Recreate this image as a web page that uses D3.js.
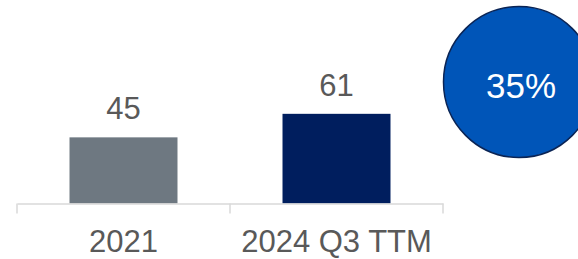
<!DOCTYPE html>
<html>
<head>
<meta charset="utf-8">
<script src="https://cdn.jsdelivr.net/npm/d3@7"></script>
<style>
  body { margin: 0; background: #fff; }
  text { font-family: "Liberation Sans", Arial, sans-serif; }
</style>
</head>
<body>
<div id="chart"></div>
<script>
// chart data
const categories = ["2021", "2024 Q3 TTM"];
const values = [45, 61];
const barColors = ["#6e7881", "#001e5e"];
const growthLabel = "35%";

const width = 578, height = 259;

const svg = d3.select("#chart").append("svg")
    .attr("width", width)
    .attr("height", height);

// scales
const x = d3.scaleBand()
    .domain(categories)
    .range([17, 443])
    .padding(0);

const y = d3.scaleLinear()
    .domain([0, 100])
    .range([203.5, 56.5]);

const barW = x.bandwidth() * 0.507;

// bars
svg.selectAll("rect.bar")
    .data(values)
    .enter()
    .append("rect")
    .attr("class", "bar")
    .attr("x", (d, i) => x(categories[i]) + x.bandwidth() / 2 - barW / 2)
    .attr("y", d => y(d))
    .attr("width", barW)
    .attr("height", d => y(0) - y(d))
    .attr("fill", (d, i) => barColors[i]);

// value labels
svg.selectAll("text.val")
    .data(values)
    .enter()
    .append("text")
    .attr("class", "val")
    .attr("x", (d, i) => x(categories[i]) + x.bandwidth() / 2)
    .attr("y", d => y(d) - 18)
    .attr("text-anchor", "middle")
    .attr("font-size", 31)
    .attr("fill", "#595959")
    .text(d => d);

// x axis: labels from d3 axis, boundary ticks drawn separately
const axis = svg.append("g")
    .attr("transform", "translate(0," + y(0) + ")")
    .call(d3.axisBottom(x).tickSize(0).tickSizeOuter(0).tickPadding(26.5));

axis.select(".domain").attr("stroke", "#d9d9d9").attr("stroke-width", 1.5);
axis.selectAll("text")
    .attr("font-size", 31)
    .attr("fill", "#595959")
    .attr("font-family", "Liberation Sans, Arial, sans-serif");

const edges = [x.range()[0]].concat(categories.map(c => x(c) + x.bandwidth()));
axis.selectAll("line.edge")
    .data(edges)
    .enter()
    .append("line")
    .attr("class", "edge")
    .attr("x1", d => d).attr("x2", d => d)
    .attr("y1", 0).attr("y2", 10)
    .attr("stroke", "#d9d9d9")
    .attr("stroke-width", 1.5);

// growth bubble
const bubble = svg.append("g").attr("transform", "translate(519,82)");
bubble.append("circle")
    .attr("r", 75.5)
    .attr("fill", "#0055b8")
    .attr("stroke", "#0a2455")
    .attr("stroke-width", 1.5);
bubble.append("text")
    .attr("x", 2)
    .attr("y", 16)
    .attr("text-anchor", "middle")
    .attr("font-size", 35)
    .attr("fill", "#ffffff")
    .text(growthLabel);
</script>
</body>
</html>
